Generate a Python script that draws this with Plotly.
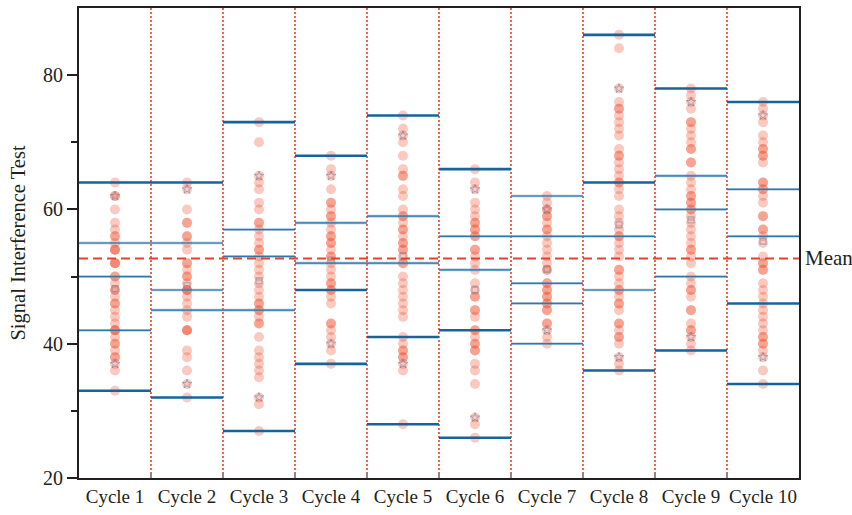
import numpy as np
import plotly.graph_objects as go

# Category labels
cycles = [f"Cycle {i}" for i in range(1, 11)]

# Individual measurements per cycle
cycle_1 = [64, 62, 62, 60, 58, 57, 56, 56, 55, 54, 54, 54, 52, 52, 52, 50, 50, 49, 48, 48,
           47, 46, 46, 45, 44, 43, 42, 42, 42, 41, 40, 40, 39, 38, 38, 37, 36, 33]
cycle_2 = [64, 63, 60, 58, 58, 56, 56, 55, 54, 52, 52, 51, 50, 50, 49, 48, 48, 48, 47, 46,
           45, 44, 42, 42, 42, 39, 38, 36, 34, 32]
cycle_3 = [73, 70, 65, 64, 63, 61, 60, 58, 58, 57, 56, 55, 54, 54, 53, 52, 51, 50, 49, 48,
           47, 46, 46, 45, 45, 44, 43, 43, 41, 39, 38, 37, 36, 35, 32, 31, 27]
cycle_4 = [68, 66, 65, 63, 61, 61, 60, 59, 59, 58, 57, 56, 56, 55, 55, 54, 53, 53, 52, 51,
           50, 49, 49, 48, 48, 47, 46, 43, 43, 42, 41, 40, 39, 37]
cycle_5 = [74, 72, 71, 70, 68, 66, 65, 65, 63, 62, 60, 59, 59, 58, 57, 57, 56, 55, 55, 54,
           54, 53, 52, 52, 50, 49, 48, 47, 46, 45, 44, 41, 40, 39, 39, 38, 38, 37, 36, 28]
cycle_6 = [66, 64, 63, 61, 60, 59, 58, 58, 57, 57, 56, 56, 54, 54, 53, 52, 51, 49, 48, 47,
           47, 45, 45, 44, 42, 42, 41, 40, 40, 39, 39, 37, 36, 34, 29, 28, 26]
cycle_7 = [62, 61, 60, 60, 59, 59, 58, 57, 57, 56, 55, 54, 53, 52, 51, 51, 49, 49, 48, 48,
           47, 47, 46, 46, 45, 45, 43, 43, 42, 41, 40]
cycle_8 = [86, 84, 78, 76, 75, 75, 74, 73, 72, 71, 69, 68, 68, 67, 66, 65, 64, 64, 63, 62,
           60, 59, 58, 57, 56, 56, 55, 54, 53, 51, 51, 50, 49, 48, 48, 47, 46, 46, 45, 43,
           43, 42, 41, 41, 40, 38, 37, 36]
cycle_9 = [78, 77, 76, 75, 73, 73, 72, 71, 70, 69, 69, 67, 67, 65, 64, 63, 62, 62, 61, 61,
           60, 60, 59, 58, 57, 56, 55, 54, 54, 53, 52, 50, 49, 48, 48, 47, 45, 45, 43, 42,
           42, 41, 40, 39]
cycle_10 = [76, 75, 74, 73, 71, 70, 69, 69, 68, 68, 67, 64, 64, 63, 63, 62, 61, 59, 59, 57,
            57, 56, 55, 53, 52, 52, 51, 51, 49, 48, 47, 46, 45, 44, 43, 42, 41, 41, 40, 40,
            39, 38, 36, 34]
cycle_values = [cycle_1, cycle_2, cycle_3, cycle_4, cycle_5,
                cycle_6, cycle_7, cycle_8, cycle_9, cycle_10]

# Summary levels drawn as horizontal bars across each category
box_max = [64, 64, 73, 68, 74, 66, 62, 86, 78, 76]
box_q3 = [55, 55, 57, 58, 59, 56, 56, 64, 65, 63]
box_median = [50, 48, 53, 52, 52, 51, 49, 56, 60, 56]
box_q1 = [42, 45, 45, 48, 41, 42, 46, 48, 50, 46]
box_min = [33, 32, 27, 37, 28, 26, 40, 36, 39, 34]

# Overall mean reference level
grand_mean = 52.7

# --- styling -------------------------------------------------------------
SERIF = "Liberation Serif"
INK = "#231f20"
POINT_RED = "rgba(239, 76, 44, 0.30)"
LINE_DARK = "#17639a"
LINE_MID = "#2f78ab"
REF_RED = "#e8402a"
MARK_GREY = "rgba(110, 125, 160, 0.55)"

# Stroke weight per level (rows: max, q3, median, q1, min; 1 = heavy stroke)
heavy = [
    [1, 1, 1, 1, 1, 1, 0, 1, 1, 1],
    [0, 0, 0, 0, 0, 0, 0, 1, 0, 0],
    [0, 0, 0, 0, 0, 0, 0, 0, 0, 0],
    [0, 0, 0, 1, 1, 1, 0, 0, 0, 1],
    [1, 1, 1, 1, 1, 1, 0, 1, 1, 1],
]

n = len(cycles)
xpos = np.arange(1, n + 1)

fig = go.Figure()

# Category separators (dotted)
for b in np.arange(1.5, n, 1.0):
    fig.add_shape(type="line", xref="x", yref="paper", x0=b, x1=b, y0=0, y1=1,
                  line=dict(color=REF_RED, width=1.6, dash="2px,2px"), layer="below")

# Raw points stacked at each category centre
for i, vals in enumerate(cycle_values):
    fig.add_trace(go.Scatter(
        x=[xpos[i]] * len(vals), y=vals, mode="markers",
        marker=dict(size=10, color=POINT_RED, line=dict(width=0)),
        showlegend=False, hoverinfo="y"))

# Per-cycle mean (square) and 5th/95th percentile (star) markers
means = [float(np.mean(v)) for v in cycle_values]
p5 = [float(np.percentile(v, 5, method="nearest")) for v in cycle_values]
p95 = [float(np.percentile(v, 95, method="nearest")) for v in cycle_values]
fig.add_trace(go.Scatter(x=xpos, y=means, mode="markers", showlegend=False,
                         marker=dict(symbol="square-open", size=6, color=MARK_GREY,
                                     line=dict(width=1.2))))
fig.add_trace(go.Scatter(x=np.concatenate([xpos, xpos]), y=p5 + p95, mode="markers",
                         showlegend=False,
                         marker=dict(symbol="star-open", size=7, color=MARK_GREY,
                                     line=dict(width=1))))

# Horizontal level bars, grouped by stroke weight
levels_all = [box_max, box_q3, box_median, box_q1, box_min]
thin_x, thin_y, thick_x, thick_y = [], [], [], []
for row, levels in enumerate(levels_all):
    for i, lv in enumerate(levels):
        seg_x = [xpos[i] - 0.5, xpos[i] + 0.5, None]
        seg_y = [lv, lv, None]
        if heavy[row][i]:
            thick_x += seg_x
            thick_y += seg_y
        else:
            thin_x += seg_x
            thin_y += seg_y

fig.add_trace(go.Scatter(x=thin_x, y=thin_y, mode="lines", showlegend=False,
                         line=dict(color="rgba(80,140,185,0.55)", width=2.6),
                         hoverinfo="skip"))
fig.add_trace(go.Scatter(x=thin_x, y=thin_y, mode="lines", showlegend=False,
                         line=dict(color=LINE_MID, width=1.2), hoverinfo="skip"))
fig.add_trace(go.Scatter(x=thick_x, y=thick_y, mode="lines", showlegend=False,
                         line=dict(color=LINE_DARK, width=2.6), hoverinfo="skip"))

# Overall mean line
fig.add_trace(go.Scatter(x=[0.5, n + 0.5], y=[grand_mean, grand_mean], mode="lines",
                         showlegend=False,
                         line=dict(color=REF_RED, width=2, dash="9px,5px")))
fig.add_annotation(x=1, xref="paper", y=grand_mean, yref="y", text="Mean",
                   showarrow=False, xanchor="left", xshift=4,
                   font=dict(family=SERIF, size=21, color=INK))

fig.update_layout(
    width=852, height=515,
    margin=dict(l=79, r=53, t=6, b=37),
    paper_bgcolor="white", plot_bgcolor="white",
    font=dict(family=SERIF, size=19, color=INK),
    showlegend=False,
)
fig.update_xaxes(
    range=[0.5, n + 0.5], tickmode="array", tickvals=xpos, ticktext=cycles,
    ticks="", showgrid=False, zeroline=False,
    showline=True, linecolor=INK, linewidth=2, mirror=True,
    tickfont=dict(family=SERIF, size=19, color=INK),
    minor=dict(tickmode="array", tickvals=list(np.arange(1.5, n, 1.0)),
               ticks="inside", ticklen=5, tickcolor="#8a8a8a", tickwidth=2),
)
fig.update_yaxes(
    range=[20, 90], tickmode="array", tickvals=[20, 40, 60, 80],
    ticks="outside", ticklen=10, tickwidth=2, tickcolor=INK,
    minor=dict(tickmode="array", tickvals=[30, 50, 70], ticks="outside",
               ticklen=6, tickwidth=2, tickcolor=INK),
    showgrid=False, zeroline=False,
    showline=True, linecolor=INK, linewidth=2, mirror=True,
    tickfont=dict(family=SERIF, size=20, color=INK),
    title=dict(text="Signal Interference Test",
               font=dict(family=SERIF, size=20.5, color=INK), standoff=12),
)

fig.write_html("out.html")
